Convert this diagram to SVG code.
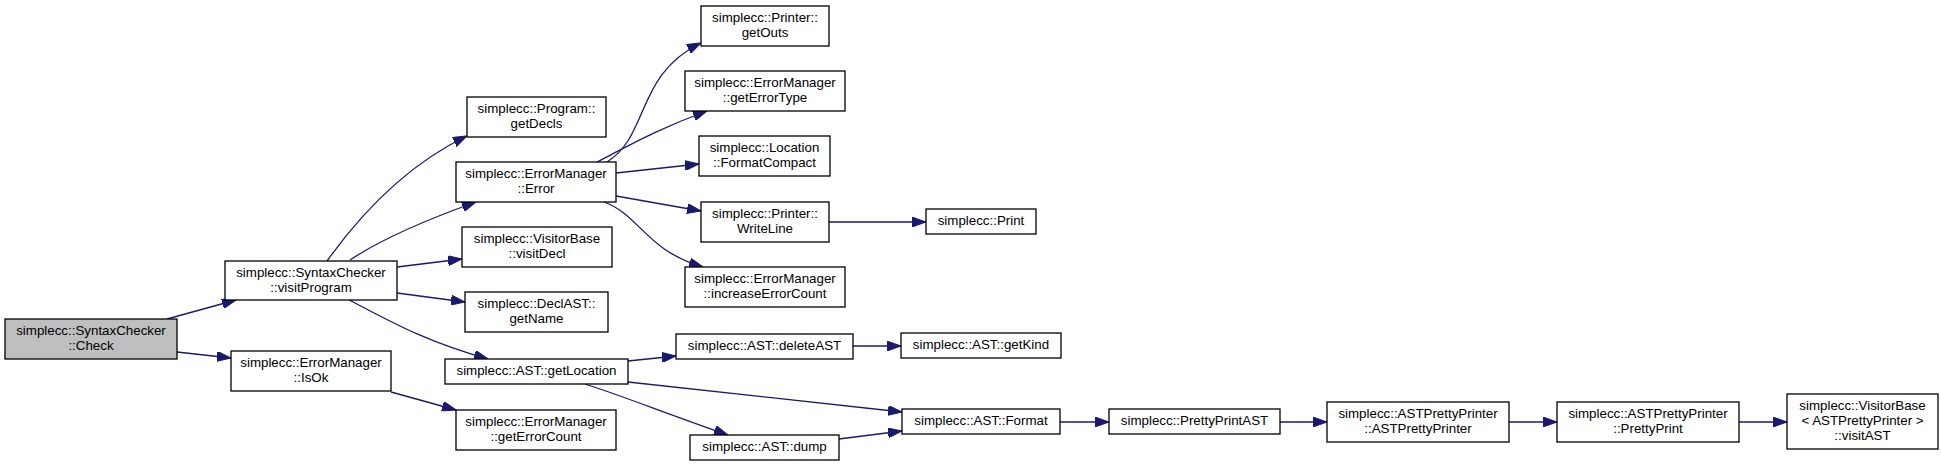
<svg xmlns="http://www.w3.org/2000/svg" width="1941" height="466" viewBox="0 0 1941 466">
<style>
.n rect{fill:#fff;stroke:#000;stroke-width:1.3}
.n.root rect{fill:#bfbfbf}
.n text{font-family:"Liberation Sans",Arial,sans-serif;font-size:13.33px;fill:#000;text-anchor:middle}
.e path{fill:none;stroke:#191970;stroke-width:1.3}
</style>
<defs>
<marker id="ah" markerUnits="userSpaceOnUse" markerWidth="14" markerHeight="10" refX="14" refY="5" orient="auto" viewBox="0 0 14 10">
<path d="M0,0 L14,5 L0,10 z" fill="#191970" stroke="#191970" stroke-width="1"/>
</marker>
</defs>
<rect width="1941" height="466" fill="#fff"/>
<g id="edges" class="e">
<path marker-end="url(#ah)" d="M167,319 L236,300"/>
<path marker-end="url(#ah)" d="M177,352 L231,358"/>
<path marker-end="url(#ah)" d="M391,392 L456,410"/>
<path marker-end="url(#ah)" d="M327,261 C355,222 400,168 467,136"/>
<path marker-end="url(#ah)" d="M350,260 C380,240 420,222 476,202"/>
<path marker-end="url(#ah)" d="M397,267 L462,259"/>
<path marker-end="url(#ah)" d="M397,293 L465,302"/>
<path marker-end="url(#ah)" d="M349,300 C385,318 420,340 488,359"/>
<path marker-end="url(#ah)" d="M607,162 C650,135 635,75 701,43"/>
<path marker-end="url(#ah)" d="M597,162 C630,145 660,128 707,111"/>
<path marker-end="url(#ah)" d="M616,173 L699,164"/>
<path marker-end="url(#ah)" d="M616,196 L701,211"/>
<path marker-end="url(#ah)" d="M604,202 C640,215 645,250 703,267"/>
<path marker-end="url(#ah)" d="M829,222 L926,222"/>
<path marker-end="url(#ah)" d="M628,361 L676,356"/>
<path marker-end="url(#ah)" d="M628,382 L902,412"/>
<path marker-end="url(#ah)" d="M585,384 C620,395 670,415 728,435"/>
<path marker-end="url(#ah)" d="M839,439 L902,431"/>
<path marker-end="url(#ah)" d="M853,346 L901,346"/>
<path marker-end="url(#ah)" d="M1060,422 L1109,422"/>
<path marker-end="url(#ah)" d="M1280,422 L1327,422"/>
<path marker-end="url(#ah)" d="M1509,422 L1557,422"/>
<path marker-end="url(#ah)" d="M1739,422 L1787,422"/>
</g>
<g id="Check" class="n root"><rect x="5" y="319" width="172" height="40"/><text x="91" y="335">simplecc::SyntaxChecker</text><text x="91" y="350">::Check</text></g>
<g id="visitProgram" class="n"><rect x="225" y="261" width="172" height="39"/><text x="311" y="277">simplecc::SyntaxChecker</text><text x="311" y="292">::visitProgram</text></g>
<g id="IsOk" class="n"><rect x="231" y="351" width="160" height="40"/><text x="311" y="367">simplecc::ErrorManager</text><text x="311" y="382">::IsOk</text></g>
<g id="getDecls" class="n"><rect x="467" y="97" width="139" height="40"/><text x="536.5" y="113">simplecc::Program::</text><text x="536.5" y="128">getDecls</text></g>
<g id="Error" class="n"><rect x="456" y="162" width="160" height="40"/><text x="536" y="178">simplecc::ErrorManager</text><text x="536" y="193">::Error</text></g>
<g id="visitDecl" class="n"><rect x="462" y="227" width="150" height="40"/><text x="537" y="243">simplecc::VisitorBase</text><text x="537" y="258">::visitDecl</text></g>
<g id="getName" class="n"><rect x="465" y="292" width="143" height="40"/><text x="536.5" y="308">simplecc::DeclAST::</text><text x="536.5" y="323">getName</text></g>
<g id="getLocation" class="n"><rect x="445" y="359" width="183" height="25"/><text x="536.5" y="375">simplecc::AST::getLocation</text></g>
<g id="getErrorCount" class="n"><rect x="456" y="410" width="160" height="40"/><text x="536" y="426">simplecc::ErrorManager</text><text x="536" y="441">::getErrorCount</text></g>
<g id="getOuts" class="n"><rect x="701" y="6" width="128" height="40"/><text x="765" y="22">simplecc::Printer::</text><text x="765" y="37">getOuts</text></g>
<g id="getErrorType" class="n"><rect x="685" y="71" width="160" height="40"/><text x="765" y="87">simplecc::ErrorManager</text><text x="765" y="102">::getErrorType</text></g>
<g id="FormatCompact" class="n"><rect x="699" y="136" width="131" height="40"/><text x="764.5" y="152">simplecc::Location</text><text x="764.5" y="167">::FormatCompact</text></g>
<g id="WriteLine" class="n"><rect x="701" y="202" width="128" height="40"/><text x="765" y="218">simplecc::Printer::</text><text x="765" y="233">WriteLine</text></g>
<g id="increaseErrorCount" class="n"><rect x="685" y="267" width="160" height="40"/><text x="765" y="283">simplecc::ErrorManager</text><text x="765" y="298">::increaseErrorCount</text></g>
<g id="deleteAST" class="n"><rect x="676" y="334" width="177" height="25"/><text x="764.5" y="350">simplecc::AST::deleteAST</text></g>
<g id="dump" class="n"><rect x="690" y="435" width="149" height="25"/><text x="764.5" y="451">simplecc::AST::dump</text></g>
<g id="Print" class="n"><rect x="926" y="209" width="110" height="25"/><text x="981" y="225">simplecc::Print</text></g>
<g id="getKind" class="n"><rect x="901" y="333" width="160" height="25"/><text x="981" y="349">simplecc::AST::getKind</text></g>
<g id="Format" class="n"><rect x="902" y="409" width="158" height="25"/><text x="981" y="425">simplecc::AST::Format</text></g>
<g id="PrettyPrintAST" class="n"><rect x="1109" y="409" width="171" height="25"/><text x="1194.5" y="425">simplecc::PrettyPrintAST</text></g>
<g id="ASTPrettyPrinter" class="n"><rect x="1327" y="402" width="182" height="40"/><text x="1418" y="418">simplecc::ASTPrettyPrinter</text><text x="1418" y="433">::ASTPrettyPrinter</text></g>
<g id="PrettyPrint" class="n"><rect x="1557" y="402" width="182" height="40"/><text x="1648" y="418">simplecc::ASTPrettyPrinter</text><text x="1648" y="433">::PrettyPrint</text></g>
<g id="visitAST" class="n"><rect x="1787" y="394" width="151" height="55"/><text x="1862.5" y="410">simplecc::VisitorBase</text><text x="1862.5" y="425">&lt; ASTPrettyPrinter &gt;</text><text x="1862.5" y="440">::visitAST</text></g>
</svg>
